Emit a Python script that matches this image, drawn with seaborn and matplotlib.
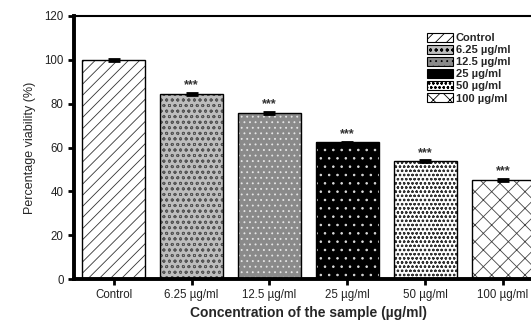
import matplotlib
matplotlib.use("Agg")
import matplotlib.pyplot as plt
import seaborn as sns
import pandas as pd
import numpy as np
from matplotlib.patches import Patch

categories = ["Control", "6.25 µg/ml", "12.5 µg/ml", "25 µg/ml", "50 µg/ml", "100 µg/ml"]
viability = [100.0, 84.4, 75.8, 62.3, 53.7, 45.2]
sem = [0.5, 0.5, 0.5, 0.4, 0.5, 0.5]
significance = ["", "***", "***", "***", "***", "***"]

# fill colour, hatch pattern and hatch colour for each group
faces = ["white", "#bdbdbd", "#8a8a8a", "black", "white", "white"]
hatches = ["///", "ooo", "...", "..", "oooo", "xx"]
hatch_cols = ["#333333", "#555555", "#e6e6e6", "#dddddd", "#333333", "#444444"]

sns.set_theme(style="ticks")
plt.rcParams["font.family"] = ["Liberation Sans", "DejaVu Sans"]
plt.rcParams["hatch.linewidth"] = 0.6

df = pd.DataFrame({"group": categories, "viability": viability})

fig = plt.figure(figsize=(5.31, 3.22), dpi=100)
ax = fig.add_axes([74 / 531, 43 / 322, (542 - 74) / 531, (279 - 16) / 322])

sns.barplot(data=df, x="group", y="viability", order=categories,
            width=0.81, errorbar=None, ax=ax, color="white", linewidth=0)
for patch, fc, h, hc in zip(ax.patches, faces, hatches, hatch_cols):
    patch.set_facecolor(fc)
    patch.set_hatch(h)
    patch.set_edgecolor(hc)
    patch.set_linewidth(0)

# black outlines on top of the hatched fills
sns.barplot(data=df, x="group", y="viability", order=categories,
            width=0.81, errorbar=None, ax=ax, fill=False,
            edgecolor="black", linewidth=1.0)

x = np.arange(len(categories))
ax.errorbar(x, viability, yerr=sem, fmt="none", ecolor="black",
            elinewidth=1.5, capsize=4, capthick=2.0)
for xi, v, s, lab in zip(x, viability, sem, significance):
    if lab:
        ax.text(xi, v + s + 0.6, lab, ha="center", va="bottom",
                fontsize=9, color="#333333", fontweight="bold")

ax.set_xlim(-0.51, 5.5)
ax.set_ylim(0, 120)
ax.set_yticks(range(0, 121, 20))
ax.set_xlabel("Concentration of the sample (µg/ml)", fontsize=10,
              fontweight="bold", labelpad=3)
ax.set_ylabel("Percentage viability (%)", fontsize=9, labelpad=6)
ax.tick_params(axis="both", labelsize=8.3, width=2, length=4, direction="out",
               color="black", labelcolor="#222222")
ax.spines["left"].set_linewidth(2.8)
ax.spines["bottom"].set_linewidth(2.8)
ax.spines["top"].set_linewidth(1.5)
ax.spines["right"].set_visible(False)
for sp in ax.spines.values():
    sp.set_color("black")

handles = [Patch(facecolor=fc, hatch=h, edgecolor=hc, linewidth=0.8)
           for fc, h, hc in zip(faces, hatches, hatch_cols)]
leg = ax.legend(handles, categories, loc="upper left",
                bbox_to_anchor=((421 - 74) / 468, (279 - 27) / 263),
                frameon=False, fontsize=8, handlelength=2.4, handleheight=0.9,
                handletextpad=0.25, labelspacing=0.15, borderpad=0)
for t in leg.get_texts():
    t.set_fontweight("bold")
for h in leg.legend_handles:
    h.set_edgecolor("black")

fig.savefig("out.png", dpi=100)
